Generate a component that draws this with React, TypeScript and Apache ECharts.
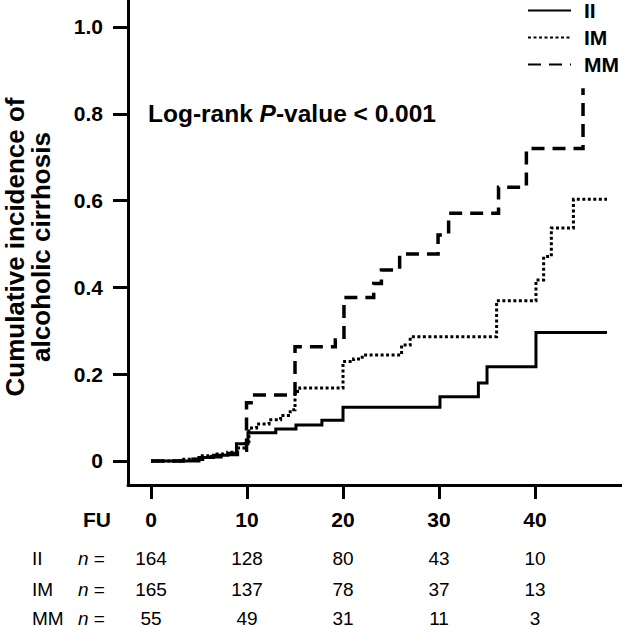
import React, { useEffect, useRef } from "react";
import * as echarts from "echarts";

// ---- data ----
const timesII = [0, 5, 6.5, 8, 8.9, 10.1, 13, 15.1, 17.8, 20, 30.1, 34.1, 35, 40.1, 47.5];
const cumII = [0, 0.008, 0.013, 0.018, 0.04, 0.065, 0.074, 0.083, 0.094, 0.124, 0.148, 0.18, 0.217, 0.296, 0.296];

const timesIM = [0, 3, 5, 6.5, 8, 9, 9.8, 10.2, 11, 12.3, 13.5, 14.5, 15, 15.5, 20, 21.1, 22, 26.1, 27, 36, 40.1, 40.9, 41.7, 44, 47.5];
const cumIM = [0, 0.004, 0.012, 0.016, 0.02, 0.03, 0.045, 0.076, 0.085, 0.095, 0.105, 0.118, 0.16, 0.168, 0.229, 0.235, 0.244, 0.267, 0.286, 0.369, 0.417, 0.471, 0.537, 0.603, 0.603];

const timesMM = [0, 4, 6, 8, 9, 9.95, 10.8, 15, 19.2, 20.1, 23.2, 24, 25.9, 29.9, 31, 36.2, 39.1, 45];
const cumMM = [0, 0.004, 0.01, 0.015, 0.025, 0.134, 0.152, 0.263, 0.279, 0.377, 0.409, 0.44, 0.477, 0.521, 0.571, 0.631, 0.72, 0.859];

const xTicks = [0, 10, 20, 30, 40];
const yTicks = [0, 0.2, 0.4, 0.6, 0.8, 1.0];
const atRiskII = [164, 128, 80, 43, 10];
const atRiskIM = [165, 137, 78, 37, 13];
const atRiskMM = [55, 49, 31, 11, 3];
const groupNames = ["II", "IM", "MM"];

const FONT = "'Liberation Sans', Arial, Helvetica, sans-serif";
const X_MIN = -2.396;
const X_MAX = 49.06;
const Y_MIN = -0.0553;
const Y_MAX = 1.0622;

function pairs(t: number[], v: number[]) {
  return t.map((x, i) => [x, v[i]]);
}

function tableAxis(values: number[], offset: number) {
  return {
    type: "value",
    min: X_MIN,
    max: X_MAX,
    position: "bottom",
    offset,
    axisLine: { show: false },
    axisTick: { show: false },
    splitLine: { show: false },
    axisLabel: {
      customValues: xTicks,
      margin: 0,
      verticalAlign: "middle",
      fontFamily: FONT,
      fontSize: 19,
      color: "#000",
      formatter: (v: number) => {
        const i = xTicks.indexOf(Math.round(v));
        return i >= 0 ? String(values[i]) : "";
      },
    },
  };
}

export default function App() {
  const ref = useRef<HTMLDivElement>(null);

  useEffect(() => {
    if (!ref.current) return;
    const chart = echarts.init(ref.current, null, { renderer: "svg" });
    const lineBase = { color: "#000", cap: "butt", join: "miter" };
    chart.setOption({
      animation: false,
      backgroundColor: "#fff",
      grid: { left: 128, right: 0, top: 0, bottom: 142, containLabel: false, outerBoundsMode: "none" },
      legend: {
        orient: "vertical",
        left: 527,
        top: 0,
        padding: 0,
        itemWidth: 43,
        itemHeight: 12,
        itemGap: 6,
        data: groupNames,
        itemStyle: { opacity: 0 },
        textStyle: {
          fontFamily: FONT,
          fontWeight: "bold",
          fontSize: 21,
          color: "#000",
          lineHeight: 16,
          padding: [0, 0, 0, 8],
        },
      },
      xAxis: [
        {
          type: "value",
          min: X_MIN,
          max: X_MAX,
          position: "bottom",
          axisLine: { show: true, onZero: false, lineStyle: { color: "#000", width: 3 } },
          axisTick: { show: true, customValues: xTicks, length: 14, inside: false, lineStyle: { color: "#000", width: 3 } },
          splitLine: { show: false },
          axisLabel: {
            customValues: xTicks,
            margin: 34,
            verticalAlign: "middle",
            fontFamily: FONT,
            fontWeight: "bold",
            fontSize: 21,
            color: "#000",
          },
        },
        tableAxis(atRiskII, 73),
        tableAxis(atRiskIM, 104),
        tableAxis(atRiskMM, 133),
      ],
      yAxis: {
        type: "value",
        min: Y_MIN,
        max: Y_MAX,
        axisLine: { show: true, onZero: false, lineStyle: { color: "#000", width: 3 } },
        axisTick: { show: true, customValues: yTicks, length: 15, inside: false, lineStyle: { color: "#000", width: 3 } },
        splitLine: { show: false },
        axisLabel: {
          customValues: yTicks,
          margin: 25,
          fontFamily: FONT,
          fontWeight: "bold",
          fontSize: 21,
          color: "#000",
          formatter: (v: number) => (Math.abs(v) < 1e-9 ? "0" : v.toFixed(1)),
        },
      },
      series: [
        {
          name: "II",
          type: "line",
          step: "end",
          symbol: "none",
          silent: true,
          data: pairs(timesII, cumII),
          lineStyle: { ...lineBase, width: 3, type: "solid" },
          itemStyle: { color: "#000" },
        },
        {
          name: "IM",
          type: "line",
          step: "end",
          symbol: "none",
          silent: true,
          data: pairs(timesIM, cumIM),
          lineStyle: { ...lineBase, width: 3, type: [3, 2.5] },
          itemStyle: { color: "#000" },
        },
        {
          name: "MM",
          type: "line",
          step: "end",
          symbol: "none",
          silent: true,
          data: pairs(timesMM, cumMM),
          lineStyle: { ...lineBase, width: 3.5, type: [13, 8] },
          itemStyle: { color: "#000" },
        },
      ],
      graphic: [
        {
          type: "text",
          x: 28,
          y: 247,
          rotation: Math.PI / 2,
          style: {
            text: "Cumulative incidence of\nalcoholic cirrhosis",
            fontFamily: FONT,
            fontWeight: "bold",
            fontSize: 26,
            lineHeight: 26,
            fill: "#000",
            align: "center",
            verticalAlign: "middle",
          },
        },
        {
          type: "text",
          x: 148,
          y: 113,
          style: {
            text: "Log-rank {p|P}-value < 0.001",
            fontFamily: FONT,
            fontWeight: "bold",
            fontSize: 24.5,
            fill: "#000",
            align: "left",
            verticalAlign: "middle",
            rich: {
              p: { fontFamily: FONT, fontWeight: "bold", fontStyle: "italic", fontSize: 24.5, fill: "#000" },
            },
          },
        },
        {
          type: "text",
          x: 83,
          y: 519,
          style: {
            text: "FU",
            fontFamily: FONT,
            fontWeight: "bold",
            fontSize: 21,
            fill: "#000",
            align: "left",
            verticalAlign: "middle",
          },
        },
        ...groupNames.map((g, i) => ({
          type: "text",
          x: 32,
          y: [558, 589, 618][i],
          style: {
            text: g,
            fontFamily: FONT,
            fontSize: 19,
            fill: "#000",
            align: "left",
            verticalAlign: "middle",
          },
        })),
        ...groupNames.map((g, i) => ({
          type: "text",
          x: 78,
          y: [558, 589, 618][i],
          style: {
            text: "{i|n} =",
            fontFamily: FONT,
            fontSize: 19,
            fill: "#000",
            align: "left",
            verticalAlign: "middle",
            rich: { i: { fontFamily: FONT, fontStyle: "italic", fontSize: 19, fill: "#000" } },
          },
        })),
      ],
    });
    return () => chart.dispose();
  }, []);

  return (
    <div
      ref={ref}
      style={{ position: "absolute", left: 0, top: 0, width: 622, height: 627, background: "#fff" }}
    />
  );
}
